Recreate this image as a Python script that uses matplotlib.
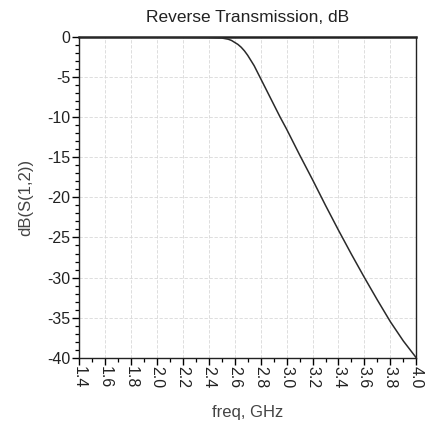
import matplotlib
matplotlib.use("Agg")
import matplotlib.pyplot as plt
from matplotlib.ticker import MultipleLocator
import numpy as np

freq = [1.4, 1.6, 1.8, 2.0, 2.2, 2.4, 2.5, 2.55, 2.575, 2.6, 2.625, 2.65, 2.675, 2.7,
        2.75, 2.8, 2.85, 2.9, 2.95, 3.0, 3.1, 3.2, 3.3, 3.4, 3.5, 3.6, 3.7, 3.8, 3.9, 4.0]
s12_db = [-0.02, -0.03, -0.04, -0.05, -0.07, -0.1, -0.15, -0.3, -0.45, -0.7, -0.95, -1.3,
          -1.75, -2.3, -3.6, -5.2, -6.8, -8.4, -10.0, -11.5, -14.7, -17.8, -21.0, -24.1,
          -27.1, -30.0, -32.8, -35.5, -37.9, -40.0]
xticks = [1.4, 1.6, 1.8, 2.0, 2.2, 2.4, 2.6, 2.8, 3.0, 3.2, 3.4, 3.6, 3.8, 4.0]
xticklabels = ["1.4", "1.6", "1.8", "2.0", "2.2", "2.4", "2.6", "2.8", "3.0",
               "3.2", "3.4", "3.6", "3.8", "4.0"]
yticks = [0, -5, -10, -15, -20, -25, -30, -35, -40]

plt.rcParams['font.family'] = ['Liberation Sans', 'DejaVu Sans']

fig = plt.figure(figsize=(4.27, 4.23), dpi=100)
ax = fig.add_axes([0.185, 0.154, 0.79, 0.759])

ax.plot(freq, s12_db, color='#2a2a2a', lw=1.1, zorder=3)

ax.set_xlim(1.4, 4.0)
ax.set_ylim(-40, 0)
ax.set_xticks(xticks)
ax.set_xticklabels(xticklabels, rotation=-90, fontsize=11.5, color='#222222')
ax.xaxis.set_minor_locator(MultipleLocator(0.1))
ax.set_yticks(yticks)
ax.set_yticklabels([str(v) for v in yticks], fontsize=11.5, color='#222222')
ax.yaxis.set_minor_locator(MultipleLocator(1))

ax.tick_params(axis='both', which='major', length=5, width=1.0, direction='out', pad=1)
ax.tick_params(axis='both', which='minor', length=3, width=0.9, direction='out')

ax.grid(True, which='major', color='#d8d8d8', lw=0.6, ls=(0, (4, 2)))

for side in ['left', 'bottom', 'right']:
    ax.spines[side].set_linewidth(1.0)
    ax.spines[side].set_color('#222222')
ax.spines['top'].set_linewidth(1.8)
ax.spines['top'].set_color('#222222')

ax.set_title("Reverse Transmission, dB", fontsize=12.5, color='#222222', pad=11)
ax.set_xlabel("freq, GHz", fontsize=12, color='#444444', labelpad=12)
ax.set_ylabel("dB(S(1,2))", fontsize=12, color='#444444', labelpad=10)

fig.savefig("out.png", dpi=100, facecolor='white')
